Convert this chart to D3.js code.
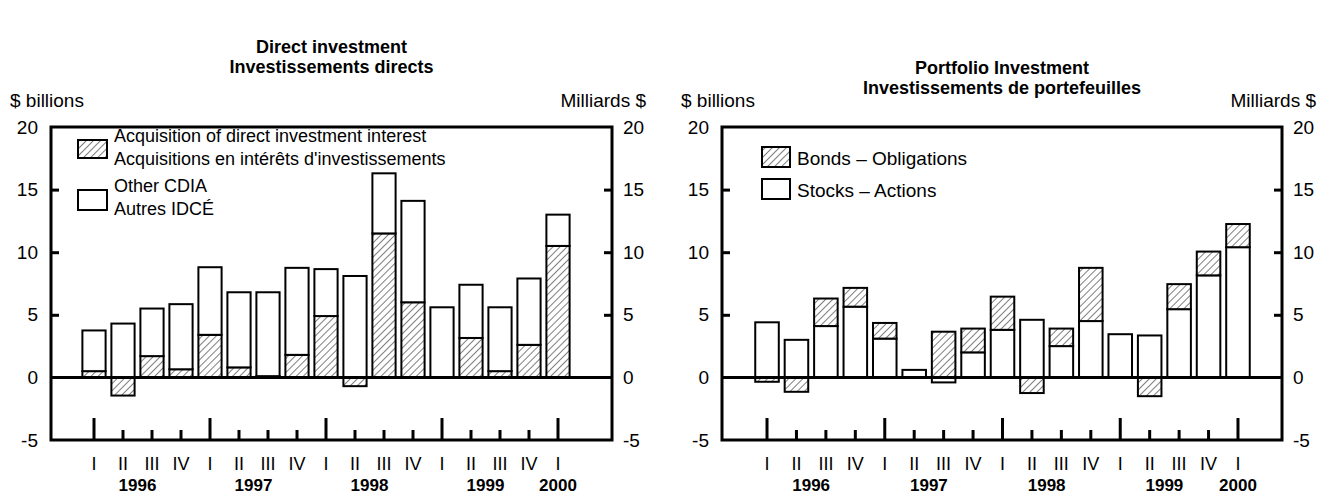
<!DOCTYPE html>
<html lang="en">
<head>
<meta charset="UTF-8">
<title>Direct and portfolio investment</title>
<script src="https://d3js.org/d3.v7.min.js"></script>
<style>
  html, body { margin: 0; padding: 0; background: #fff; }
  svg text { font-family: "Liberation Sans", Arial, sans-serif; fill: #000; }
</style>
</head>
<body>
<svg id="chart" width="1332" height="497"></svg>
<script>
// quarters on the x axis
var quarters = ["1996-I","1996-II","1996-III","1996-IV","1997-I","1997-II","1997-III","1997-IV",
                "1998-I","1998-II","1998-III","1998-IV","1999-I","1999-II","1999-III","1999-IV","2000-I"];
var years = ["1996", "1997", "1998", "1999", "2000"];
var yTicks = [-5, 0, 5, 10, 15, 20];

// direct investment ($ billions)
var acquisition = [0.5, -1.45, 1.7, 0.65, 3.4, 0.8, 0.1, 1.8, 4.9, -0.7, 11.5, 6.0, 0, 3.15, 0.5, 2.6, 10.5];
var otherCDIA   = [3.25, 4.3, 3.8, 5.2, 5.4, 6.0, 6.7, 6.95, 3.75, 8.1, 4.8, 8.1, 5.6, 4.25, 5.1, 5.3, 2.5];

// portfolio investment ($ billions)
var stocks = [4.4, 3.0, 4.1, 5.65, 3.1, 0.6, -0.4, 2.0, 3.8, 4.6, 2.5, 4.5, 3.45, 3.35, 5.45, 8.15, 10.4];
var bonds  = [-0.35, -1.15, 2.2, 1.5, 1.25, 0, 3.65, 1.9, 2.65, -1.25, 1.4, 4.25, 0, -1.5, 2.0, 1.9, 1.85];

var svg = d3.select("#chart");

// hatch pattern
var defs = svg.append("defs");
defs.append("pattern")
    .attr("id", "hatch")
    .attr("patternUnits", "userSpaceOnUse")
    .attr("width", 5)
    .attr("height", 5)
    .attr("patternTransform", "rotate(45)")
  .call(function (p) {
      p.append("rect").attr("width", 5).attr("height", 5).attr("fill", "#fff");
      p.append("line").attr("x1", 0).attr("y1", 0).attr("x2", 0).attr("y2", 5)
          .attr("stroke", "#000").attr("stroke-width", 1);
  });

var roman = function (q) { return q.split("-")[1]; };

function panel(cfg) {
    var g = svg.append("g");
    var y = d3.scaleLinear().domain([-5, 20]).range([cfg.bottom, cfg.top]);
    var x = d3.scaleBand().domain(quarters)
        .range([cfg.bandStart, cfg.bandEnd])
        .paddingInner(0.2).paddingOuter(0.1);

    // titles
    cfg.title.forEach(function (t, i) {
        g.append("text").attr("x", (cfg.left + cfg.right) / 2).attr("y", cfg.titleY + i * 20)
            .attr("text-anchor", "middle").style("font-weight", "bold").style("font-size", "18px")
            .text(t);
    });

    g.append("text").attr("x", cfg.left - 41).attr("y", 107).style("font-size", "19px").text("$ billions");
    g.append("text").attr("x", cfg.right + 34).attr("y", 107).attr("text-anchor", "end")
        .style("font-size", "19px").text("Milliards $");

    // stacked bars
    var rows = quarters.map(function (q, i) {
        var r = { q: q };
        r[cfg.keys[0]] = cfg.series[0][i];
        r[cfg.keys[1]] = cfg.series[1][i];
        return r;
    });
    var stack = d3.stack().keys(cfg.keys).offset(d3.stackOffsetDiverging)(rows);

    stack.forEach(function (layer, li) {
        g.append("g").selectAll("rect")
            .data(layer.filter(function (d) { return d[1] !== d[0]; }))
            .enter().append("rect")
            .attr("x", function (d) { return x(d.data.q); })
            .attr("width", x.bandwidth())
            .attr("y", function (d) { return y(Math.max(d[0], d[1])); })
            .attr("height", function (d) { return Math.abs(y(d[0]) - y(d[1])); })
            .attr("fill", cfg.fills[li])
            .attr("stroke", "#000")
            .attr("stroke-width", 2);
    });

    // zero line
    g.append("line").attr("x1", cfg.left).attr("x2", cfg.right)
        .attr("y1", y(0)).attr("y2", y(0))
        .attr("stroke", "#000").attr("stroke-width", 3);

    // frame
    g.append("rect").attr("x", cfg.left).attr("y", cfg.top)
        .attr("width", cfg.right - cfg.left).attr("height", cfg.bottom - cfg.top)
        .attr("fill", "none").attr("stroke", "#000").attr("stroke-width", 3);

    // y axes, left and right
    var fmt = function (d) { return String(d); };
    var yl = d3.axisLeft(y).tickValues(yTicks).tickFormat(fmt).tickSize(0).tickPadding(13);
    var yr = d3.axisRight(y).tickValues(yTicks).tickFormat(fmt).tickSize(0).tickPadding(11);
    [[yl, cfg.left, 1], [yr, cfg.right, -1]].forEach(function (a) {
        var ax = g.append("g").attr("transform", "translate(" + a[1] + ",0)").call(a[0]);
        ax.select(".domain").remove();
        ax.selectAll("text").style("font-size", "19px").style("font-family", "Liberation Sans, Arial, sans-serif");
        ax.selectAll(".tick").filter(function (d) { return d > 0 && d < 20; })
            .append("line").attr("x1", 0).attr("x2", 8 * a[2])
            .attr("stroke", "#000").attr("stroke-width", 3);
    });

    // bottom quarter ticks
    g.append("g").selectAll("line")
        .data(quarters).enter().append("line")
        .attr("x1", function (q) { return x(q) + x.bandwidth() / 2; })
        .attr("x2", function (q) { return x(q) + x.bandwidth() / 2; })
        .attr("y1", cfg.bottom)
        .attr("y2", function (q) { return roman(q) === "I" ? cfg.bottom - 22 : cfg.bottom - 10; })
        .attr("stroke", "#000").attr("stroke-width", 3);

    g.append("g").selectAll("text")
        .data(quarters).enter().append("text")
        .attr("x", function (q) { return x(q) + x.bandwidth() / 2; })
        .attr("y", cfg.bottom + 30)
        .attr("text-anchor", "middle").style("font-size", "18px")
        .text(roman);

    g.append("g").selectAll("text")
        .data(years).enter().append("text")
        .attr("x", function (yr) {
            return d3.mean(quarters.filter(function (q) { return q.indexOf(yr) === 0; }),
                function (q) { return x(q) + x.bandwidth() / 2; });
        })
        .attr("y", cfg.bottom + 51)
        .attr("text-anchor", "middle").style("font-size", "17px").style("font-weight", "bold")
        .text(function (d) { return d; });

    // legend
    var lg = g.append("g");
    cfg.legend.forEach(function (item) {
        lg.append("rect").attr("x", item.x).attr("y", item.y)
            .attr("width", item.w).attr("height", item.h)
            .attr("fill", item.fill).attr("stroke", "#000").attr("stroke-width", 2);
        item.lines.forEach(function (t, i) {
            lg.append("text").attr("x", item.tx).attr("y", item.ty + i * 23)
                .style("font-size", item.fs).text(t);
        });
    });
}

panel({
    left: 51, right: 612, top: 127, bottom: 440,
    bandStart: 79.5, bandEnd: 572.5,
    titleY: 53,
    title: ["Direct investment", "Investissements directs"],
    keys: ["acq", "other"],
    series: [acquisition, otherCDIA],
    fills: ["url(#hatch)", "#fff"],
    legend: [
        { x: 78, y: 140, w: 29, h: 18, fill: "url(#hatch)", tx: 114, ty: 142, fs: "18px",
          lines: ["Acquisition of direct investment interest", "Acquisitions en intérêts d'investissements"] },
        { x: 78, y: 190, w: 29, h: 20, fill: "#fff", tx: 114, ty: 192, fs: "18px",
          lines: ["Other CDIA", "Autres IDCÉ"] }
    ]
});

panel({
    left: 722, right: 1282, top: 127, bottom: 440,
    bandStart: 752.3, bandEnd: 1252.7,
    titleY: 74,
    title: ["Portfolio Investment", "Investissements de portefeuilles"],
    keys: ["stocks", "bonds"],
    series: [stocks, bonds],
    fills: ["#fff", "url(#hatch)"],
    legend: [
        { x: 762, y: 147, w: 28, h: 20, fill: "url(#hatch)", tx: 797, ty: 165, fs: "19px",
          lines: ["Bonds – Obligations"] },
        { x: 762, y: 179, w: 28, h: 20, fill: "#fff", tx: 797, ty: 197, fs: "19px",
          lines: ["Stocks – Actions"] }
    ]
});
</script>
</body>
</html>
